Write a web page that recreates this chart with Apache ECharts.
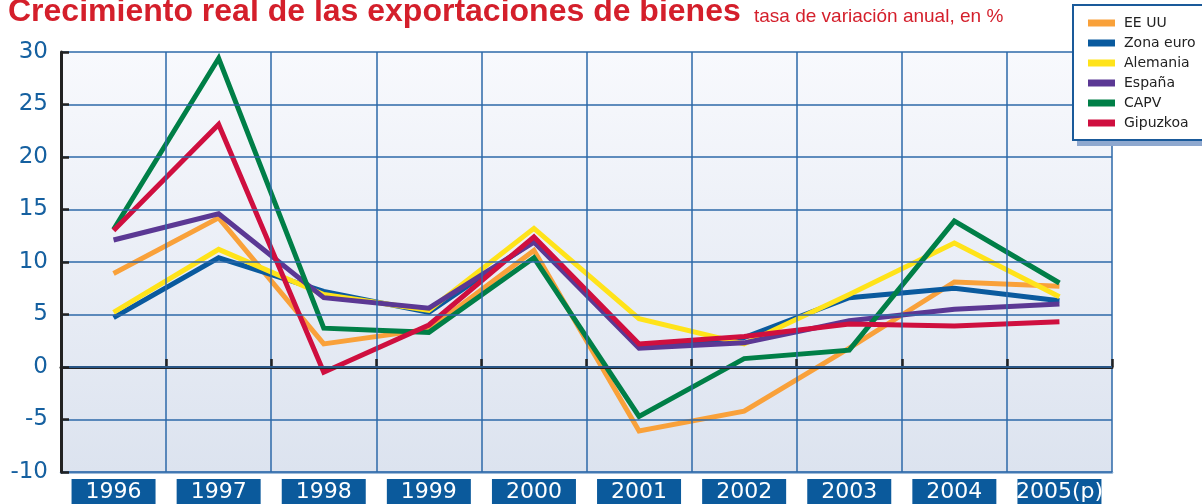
<!DOCTYPE html>
<html>
<head>
<meta charset="utf-8">
<script src="https://cdn.jsdelivr.net/npm/echarts@6/dist/echarts.min.js"></script>
<style>html,body{margin:0;padding:0;background:#fff}#c{width:1202px;height:504px}</style>
</head>
<body>
<div id="c"></div>
<script>
const categories = ['1996','1997','1998','1999','2000','2001','2002','2003','2004','2005(p)'];
const yTicks = { min: -10, max: 30, interval: 5 };
const eeuu     = [8.9, 14.2, 2.2, 3.6, 11.1, -6.1, -4.2, 1.8, 8.1, 7.7];
const zonaEuro = [4.7, 10.4, 7.2, 5.2, 12.0, 2.0, 2.8, 6.6, 7.5, 6.3];
const alemania = [5.2, 11.2, 6.9, 5.4, 13.2, 4.6, 2.2, 6.9, 11.8, 6.7];
const espana   = [12.1, 14.6, 6.6, 5.6, 11.9, 1.8, 2.3, 4.4, 5.5, 6.0];
const capv     = [13.1, 29.4, 3.7, 3.3, 10.4, -4.7, 0.8, 1.6, 13.9, 8.0];
const gipuzkoa = [13.0, 23.1, -0.5, 4.0, 12.4, 2.2, 2.9, 4.1, 3.9, 4.3];

const seriesDefs = [
  { name: 'EE UU', data: eeuu, color: '#f9a13a' },
  { name: 'Zona euro', data: zonaEuro, color: '#0a5a9e' },
  { name: 'Alemania', data: alemania, color: '#ffe31a' },
  { name: 'España', data: espana, color: '#5b3894' },
  { name: 'CAPV', data: capv, color: '#007f47' },
  { name: 'Gipuzkoa', data: gipuzkoa, color: '#cf0f3f' }
];

const chart = echarts.init(document.getElementById('c'), null, { renderer: 'canvas' });
chart.setOption({
  animation: false,
  textStyle: { fontFamily: 'DejaVu Sans' },
  title: [
    { text: 'Crecimiento real de las exportaciones de bienes', left: 3, top: -9,
      textStyle: { fontFamily: 'Liberation Sans', fontWeight: 'bold', fontSize: 32, color: '#d41f2b' } },
    { text: 'tasa de variación anual, en %', left: 749, top: 2,
      textStyle: { fontFamily: 'Liberation Sans', fontWeight: 'normal', fontSize: 19, color: '#d41f2b' } }
  ],
  graphic: [
    { type: 'rect', left: 1077, top: 10, z: 90, silent: true,
      shape: { width: 140, height: 136 }, style: { fill: '#8ea8cf' } }
  ],
  legend: {
    orient: 'vertical', left: 1073, top: 5, z: 100,
    padding: [11, 20, 10, 15],
    itemWidth: 27, itemHeight: 7, itemGap: 6,
    icon: 'rect',
    backgroundColor: '#ffffff', borderColor: '#1a5a9a', borderWidth: 2,
    textStyle: { fontFamily: 'DejaVu Sans', fontSize: 14, color: '#222', lineHeight: 14, padding: [0, 0, 0, 4] },
    data: seriesDefs.map(s => s.name)
  },
  grid: {
    left: 61, right: 90, top: 52, bottom: 32, show: true, borderWidth: 0,
    backgroundColor: { type: 'linear', x: 0, y: 0, x2: 0, y2: 1,
      colorStops: [{ offset: 0, color: '#f8f9fd' }, { offset: 1, color: '#dce3ef' }] }
  },
  xAxis: [
    { type: 'category', data: categories, position: 'bottom', boundaryGap: true,
      axisLine: { onZero: true, lineStyle: { color: '#222', width: 3 } },
      axisTick: { show: true, inside: true, length: 8, interval: 0, lineStyle: { color: '#222', width: 2.5 } },
      axisLabel: { show: false },
      splitLine: { show: true, interval: 0, lineStyle: { color: '#2c68a8', width: 1.5 } },
      z: 5 },
    { type: 'category', data: categories, position: 'bottom', boundaryGap: true,
      axisLine: { onZero: false, lineStyle: { color: '#7fa5cd', width: 2.5 } },
      axisTick: { show: false },
      splitLine: { show: false },
      axisLabel: { show: true, interval: 0, margin: 7, color: '#ffffff', fontFamily: 'DejaVu Sans', fontSize: 22,
        backgroundColor: '#0b5a9c', width: 84, align: 'center', overflow: 'none',
        lineHeight: 22, padding: [2, 0, 1, 0] } }
  ],
  yAxis: {
    type: 'value', min: yTicks.min, max: yTicks.max, interval: yTicks.interval,
    axisLine: { show: true, lineStyle: { color: '#222', width: 3 } },
    axisTick: { show: true, inside: true, length: 8, lineStyle: { color: '#222', width: 2.5 } },
    axisLabel: { margin: 13, color: '#1560a0', fontFamily: 'DejaVu Sans', fontSize: 23 },
    splitLine: { show: true, lineStyle: { color: '#2c68a8', width: 1.5 } },
    z: 6
  },
  series: seriesDefs.map(s => ({
    name: s.name, type: 'line', xAxisIndex: 0, data: s.data,
    showSymbol: false, symbol: 'none', color: s.color,
    itemStyle: { color: s.color },
    lineStyle: { color: s.color, width: 5, cap: 'butt', join: 'miter' },
    z: 3
  }))
});
</script>
</body>
</html>
